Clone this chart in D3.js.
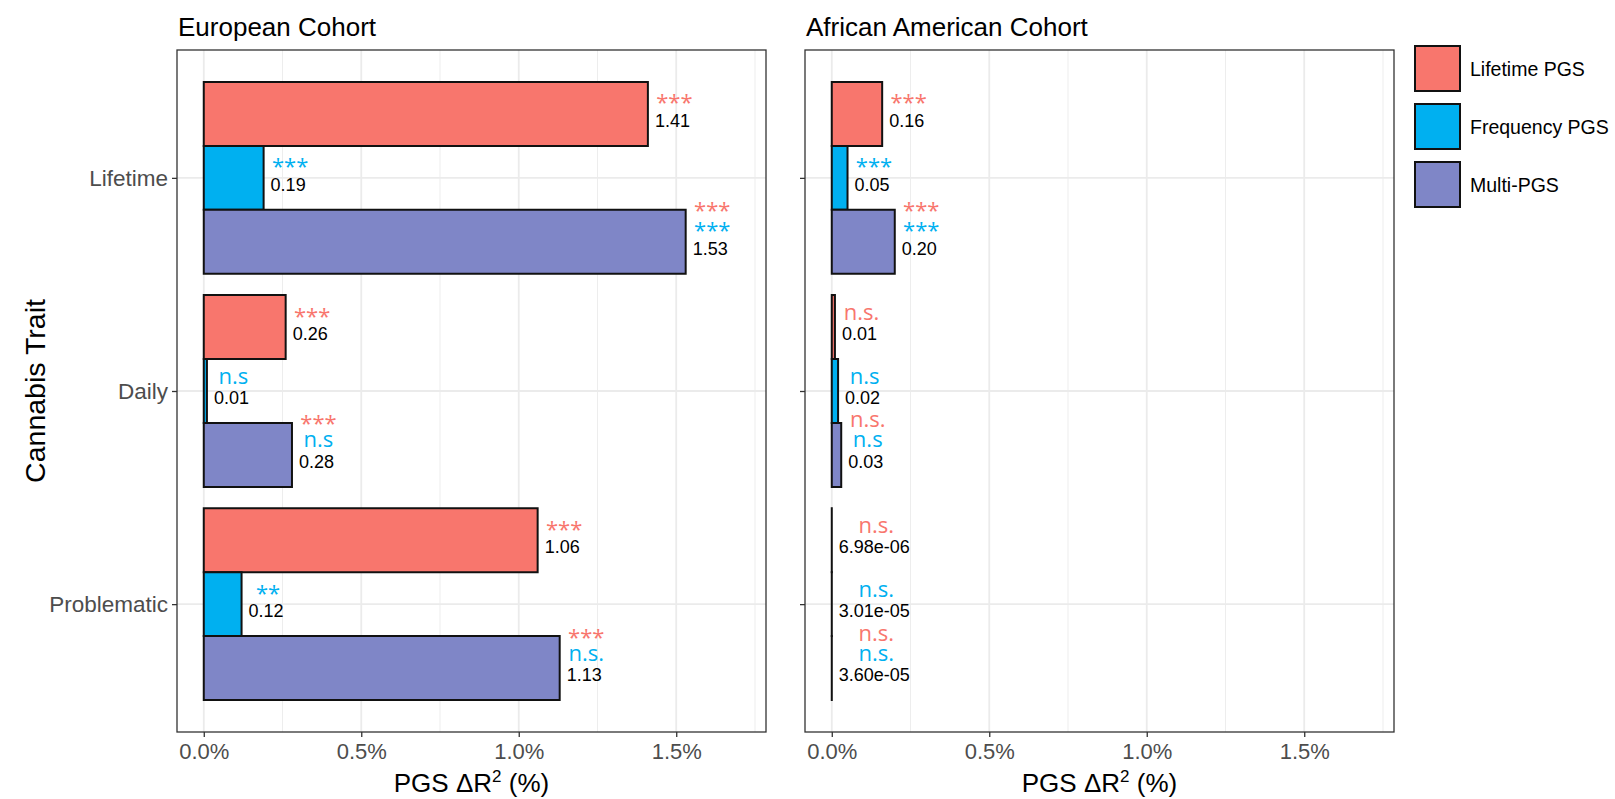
<!DOCTYPE html>
<html>
<head>
<meta charset="utf-8">
<script src="https://cdn.jsdelivr.net/npm/d3@7"></script>
<style>
  body { margin: 0; background: #fff; }
</style>
</head>
<body>
<div id="chart"></div>
<script>
// --- Data ---
const traits = ["Lifetime", "Daily", "Problematic"];
const series = ["Lifetime PGS", "Frequency PGS", "Multi-PGS"];
const xTicks = [0, 0.5, 1.0, 1.5];

// delta R2 in %, rows = trait, cols = series
const eurValues = [[1.41, 0.19, 1.53], [0.26, 0.01, 0.28], [1.06, 0.12, 1.13]];
const eurLabels = [["1.41", "0.19", "1.53"], ["0.26", "0.01", "0.28"], ["1.06", "0.12", "1.13"]];
const eurSig = [
  [["***"], ["***"], ["***", "***"]],
  [["***"], ["n.s"], ["***", "n.s"]],
  [["***"], ["**"], ["***", "n.s."]]
];

const aaValues = [[0.16, 0.05, 0.20], [0.01, 0.02, 0.03], [6.98e-06, 3.01e-05, 3.60e-05]];
const aaLabels = [["0.16", "0.05", "0.20"], ["0.01", "0.02", "0.03"], ["6.98e-06", "3.01e-05", "3.60e-05"]];
const aaSig = [
  [["***"], ["***"], ["***", "***"]],
  [["n.s."], ["n.s"], ["n.s.", "n.s"]],
  [["n.s."], ["n.s."], ["n.s.", "n.s."]]
];

// --- Style ---
const palette = ["#F8766D", "#00B0F0", "#7F86C7"];
const sans = "'Liberation Sans', Arial, sans-serif";
const sigFont = "'Open Sans', sans-serif";

const width = 1615, height = 799;
const panelTop = 50, panelBottom = 732;

const panels = [
  { title: "European Cohort", values: eurValues, labels: eurLabels, sig: eurSig, x0: 177, x1: 766, yLabels: true },
  { title: "African American Cohort", values: aaValues, labels: aaLabels, sig: aaSig, x0: 805, x1: 1394, yLabels: false }
];

const svg = d3.select("#chart").append("svg")
  .attr("width", width)
  .attr("height", height);

// discrete y like ggplot: 0.6 unit expansion each side
const unit = (panelBottom - panelTop) / (traits.length - 1 + 1.2);
const yScale = d3.scalePoint()
  .domain(traits)
  .range([panelTop + 0.6 * unit, panelBottom - 0.6 * unit]);

const dodge = d3.scaleBand()
  .domain(series)
  .range([-0.45 * unit, 0.45 * unit])
  .paddingInner(0);

panels.forEach(p => {
  const xScale = d3.scaleLinear()
    .domain([-0.085, 1.785])
    .range([p.x0, p.x1]);

  const g = svg.append("g");

  // panel background + grid
  g.append("rect")
    .attr("x", p.x0).attr("y", panelTop)
    .attr("width", p.x1 - p.x0).attr("height", panelBottom - panelTop)
    .attr("fill", "#fff");

  g.selectAll("line.minor")
    .data([0.25, 0.75, 1.25, 1.75])
    .enter().append("line")
    .attr("x1", d => xScale(d)).attr("x2", d => xScale(d))
    .attr("y1", panelTop).attr("y2", panelBottom)
    .attr("stroke", "#ebebeb").attr("stroke-width", 0.9);

  g.selectAll("line.majorx")
    .data(xTicks)
    .enter().append("line")
    .attr("x1", d => xScale(d)).attr("x2", d => xScale(d))
    .attr("y1", panelTop).attr("y2", panelBottom)
    .attr("stroke", "#ebebeb").attr("stroke-width", 1.8);

  g.selectAll("line.majory")
    .data(traits)
    .enter().append("line")
    .attr("x1", p.x0).attr("x2", p.x1)
    .attr("y1", d => yScale(d)).attr("y2", d => yScale(d))
    .attr("stroke", "#ebebeb").attr("stroke-width", 1.8);

  // bars (paths so zero-width bars still show their outline)
  traits.forEach((t, ti) => {
    series.forEach((s, si) => {
      const v = p.values[ti][si];
      const y0 = yScale(t) + dodge(s);
      const y1 = y0 + dodge.bandwidth();
      const xa = xScale(0), xb = xScale(v);
      g.append("path")
        .attr("d", `M${xa},${y0}H${xb}V${y1}H${xa}Z`)
        .attr("fill", palette[si])
        .attr("stroke", "#111")
        .attr("stroke-width", 2);

      const yc = (y0 + y1) / 2;
      const valCenter = yc + 6.5;
      const val = g.append("text")
        .attr("x", xb + 7)
        .attr("y", valCenter + 6.5)
        .attr("font-family", sans)
        .attr("font-size", 18)
        .attr("fill", "#000")
        .text(p.labels[ti][si]);
      const w = val.node().getComputedTextLength();
      const cx = xb + 7 + w / 2 + 2;

      const sigs = p.sig[ti][si];
      sigs.forEach((txt, k) => {
        const level = sigs.length - k;
        const colorIdx = sigs.length === 1 ? si : k;
        const c = valCenter - 20 * level;
        const isStar = txt.indexOf("*") >= 0;
        g.append("text")
          .attr("x", cx)
          .attr("y", c + (isStar ? 10 : 6))
          .attr("text-anchor", "middle")
          .attr("font-family", sigFont)
          .attr("font-size", 22)
          .attr("fill", palette[colorIdx])
          .text(txt);
      });
    });
  });

  // panel border
  g.append("rect")
    .attr("x", p.x0).attr("y", panelTop)
    .attr("width", p.x1 - p.x0).attr("height", panelBottom - panelTop)
    .attr("fill", "none")
    .attr("stroke", "#333")
    .attr("stroke-width", 1.3);

  // x axis
  const xAxis = g.append("g")
    .attr("transform", `translate(0,${panelBottom})`)
    .call(d3.axisBottom(xScale)
      .tickValues(xTicks)
      .tickFormat(d => d.toFixed(1) + "%")
      .tickSize(5)
      .tickPadding(6));
  xAxis.select(".domain").remove();
  xAxis.selectAll("line").attr("stroke", "#333").attr("stroke-width", 1.3);
  xAxis.selectAll("text")
    .attr("font-family", sans).attr("font-size", 22).attr("fill", "#4d4d4d");

  // y axis
  const yAxis = g.append("g")
    .attr("transform", `translate(${p.x0},0)`)
    .call(d3.axisLeft(yScale).tickSize(5).tickPadding(4));
  yAxis.select(".domain").remove();
  yAxis.selectAll("line").attr("stroke", "#333").attr("stroke-width", 1.3);
  yAxis.selectAll("text")
    .attr("font-family", sans).attr("font-size", 22.5).attr("fill", "#4d4d4d");
  if (!p.yLabels) yAxis.selectAll("text").remove();

  // strip title
  g.append("text")
    .attr("x", p.x0 + 1)
    .attr("y", 36)
    .attr("font-family", sans)
    .attr("font-size", 26)
    .attr("fill", "#000")
    .text(p.title);

  // x axis title
  const xt = g.append("text")
    .attr("x", (p.x0 + p.x1) / 2)
    .attr("y", 792)
    .attr("text-anchor", "middle")
    .attr("font-family", sans)
    .attr("font-size", 26)
    .attr("fill", "#000");
  xt.append("tspan").text("PGS \u0394R");
  xt.append("tspan").attr("font-size", 17).attr("dy", -10).text("2");
  xt.append("tspan").attr("dy", 10).text(" (%)");
});

// y axis title
svg.append("text")
  .attr("transform", `translate(45,${(panelTop + panelBottom) / 2}) rotate(-90)`)
  .attr("text-anchor", "middle")
  .attr("font-family", sans)
  .attr("font-size", 28.5)
  .attr("fill", "#000")
  .text("Cannabis Trait");

// --- Legend ---
const legend = svg.append("g").attr("transform", "translate(1415,46)");
series.forEach((s, i) => {
  legend.append("rect")
    .attr("x", 0).attr("y", i * 58)
    .attr("width", 45).attr("height", 45)
    .attr("fill", palette[i])
    .attr("stroke", "#111")
    .attr("stroke-width", 2);
  legend.append("text")
    .attr("x", 55).attr("y", i * 58 + 23)
    .attr("dy", "0.35em")
    .attr("font-family", sans)
    .attr("font-size", 19.5)
    .attr("fill", "#000")
    .text(s);
});
</script>
</body>
</html>
